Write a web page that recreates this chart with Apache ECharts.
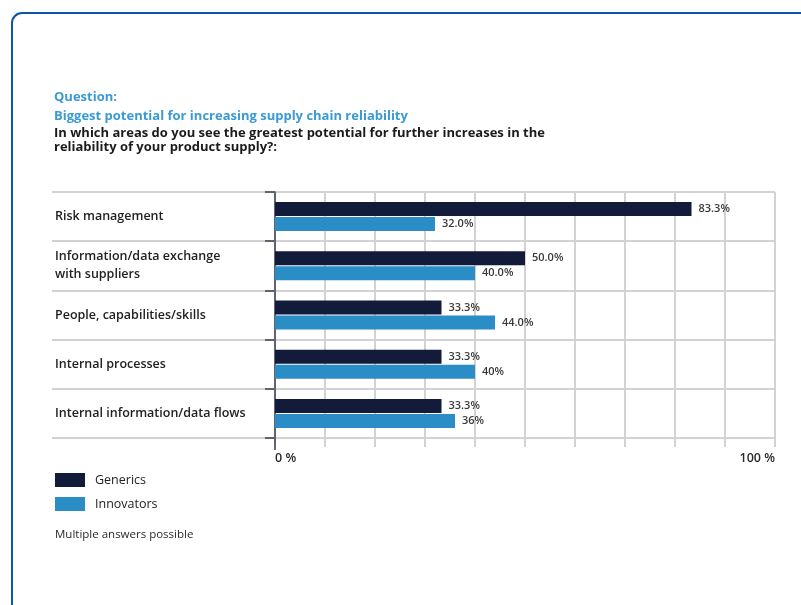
<!DOCTYPE html>
<html>
<head>
<meta charset="utf-8">
<title>Supply chain reliability</title>
<script src="https://cdn.jsdelivr.net/npm/echarts@6/dist/echarts.min.js"></script>
<style>
  html, body { margin: 0; padding: 0; background: #ffffff; }
  #chart { width: 801px; height: 605px; }
</style>
</head>
<body>
<div id="chart"></div>
<script>
// Survey areas (top to bottom)
const categories = [
  'Risk management',
  'Information/data exchange\nwith suppliers',
  'People, capabilities/skills',
  'Internal processes',
  'Internal information/data flows'
];

// Share of respondents, percent
const genericsValues = [83.3, 50.0, 33.3, 33.3, 33.3];
const innovatorsValues = [32.0, 40.0, 44.0, 40, 36];

// Value labels as printed next to the bars
const genericsLabels = ['83.3%', '50.0%', '33.3%', '33.3%', '33.3%'];
const innovatorsLabels = ['32.0%', '40.0%', '44.0%', '40%', '36%'];

// Axis end labels
const axisTickLabels = [0, 100];

const FONT = '"Open Sans", "Noto Sans", sans-serif';
const GRID_COLOR = '#d2d2d2';
const AXIS_DARK = '#3b3f4f';

const chart = echarts.init(document.getElementById('chart'), null, { renderer: 'canvas' });

chart.setOption({
  backgroundColor: '#ffffff',
  animation: false,
  graphic: [{
    type: 'rect',
    shape: { x: 12, y: 13, width: 820, height: 640, r: 10 },
    style: { fill: 'none', stroke: '#0a57a9', lineWidth: 2 },
    silent: true
  }],
  title: [
    {
      text: 'Question:\nBiggest potential for increasing supply chain reliability',
      left: 49, top: 83,
      textStyle: { fontFamily: FONT, fontSize: 13, fontWeight: 'bold', color: '#3a9ad4', lineHeight: 19 }
    },
    {
      text: 'In which areas do you see the greatest potential for further increases in the\nreliability of your product supply?:',
      left: 49, top: 121,
      textStyle: { fontFamily: FONT, fontSize: 13, fontWeight: 'bold', color: '#1b1b1b', lineHeight: 14 }
    },
    {
      text: 'Multiple answers possible',
      left: 50, top: 524,
      textStyle: { fontFamily: FONT, fontSize: 11.5, fontWeight: 'normal', color: '#2a2a2a' }
    }
  ],
  legend: {
    orient: 'vertical',
    left: 50, top: 468,
    itemWidth: 30, itemHeight: 14, itemGap: 10,
    icon: 'rect',
    textStyle: { fontFamily: FONT, fontSize: 12.5, color: '#222', padding: [0, 0, 0, 5] },
    data: ['Generics', 'Innovators']
  },
  grid: { left: 275, right: 26, top: 192, bottom: 167, containLabel: false },
  xAxis: [
    {
      type: 'value', min: 0, max: 100, interval: 10,
      axisLine: { show: false },
      axisTick: { show: true, length: 9, lineStyle: { color: GRID_COLOR, width: 2 } },
      splitLine: { show: true, lineStyle: { color: GRID_COLOR, width: 2 } },
      axisLabel: {
        customValues: axisTickLabels,
        formatter: v => v + ' %',
        alignMinLabel: 'left', alignMaxLabel: 'right',
        margin: 14,
        fontFamily: FONT, fontSize: 12.5, fontWeight: 600, color: '#2a2a2a'
      }
    },
    {
      type: 'value', min: 0, max: 100, position: 'bottom',
      axisLine: { show: false },
      axisTick: { show: true, customValues: [0], length: 12, lineStyle: { color: AXIS_DARK, width: 1.5 } },
      axisLabel: { show: false },
      splitLine: { show: false }
    }
  ],
  yAxis: [
    {
      type: 'category', data: categories, inverse: true,
      axisLine: { show: false },
      axisTick: { show: true, length: 223, lineStyle: { color: GRID_COLOR, width: 2 } },
      splitLine: { show: true, lineStyle: { color: GRID_COLOR, width: 2 } },
      axisLabel: {
        margin: 220, align: 'left',
        fontFamily: FONT, fontSize: 12.5, fontWeight: 600, color: '#222', lineHeight: 18
      }
    },
    {
      type: 'category', data: categories, inverse: true, position: 'left',
      axisLine: { show: true, lineStyle: { color: AXIS_DARK, width: 1.5 } },
      axisTick: { show: true, length: 10, lineStyle: { color: AXIS_DARK, width: 1.5 } },
      axisLabel: { show: false },
      splitLine: { show: false }
    }
  ],
  series: [
    {
      name: 'Generics', type: 'bar', data: genericsValues,
      barWidth: 14, barGap: '7%',
      itemStyle: { color: '#131b3b' },
      label: {
        show: true, position: 'right', distance: 7,
        formatter: p => genericsLabels[p.dataIndex],
        fontFamily: FONT, fontSize: 11, fontWeight: 600, color: '#3a3a3a'
      }
    },
    {
      name: 'Innovators', type: 'bar', data: innovatorsValues,
      barWidth: 14, barGap: '7%',
      itemStyle: { color: '#2a8dc5' },
      label: {
        show: true, position: 'right', distance: 7,
        formatter: p => innovatorsLabels[p.dataIndex],
        fontFamily: FONT, fontSize: 11, fontWeight: 600, color: '#3a3a3a'
      }
    }
  ]
});
</script>
</body>
</html>
